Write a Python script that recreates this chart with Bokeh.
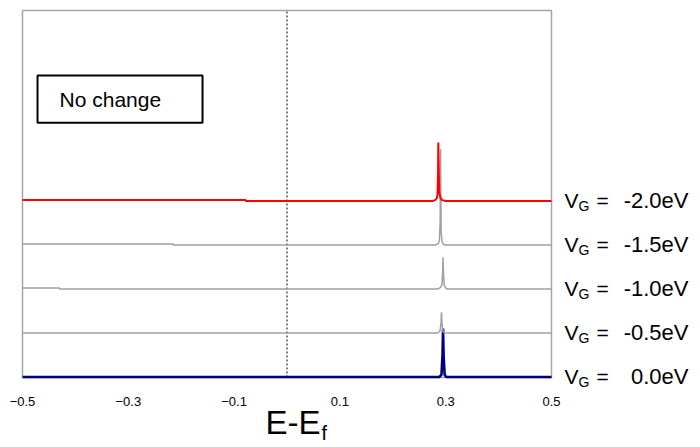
from bokeh.plotting import figure
from bokeh.models import Label, BoxAnnotation, Range1d
from bokeh.core.properties import value
from bokeh.embed import file_html
from bokeh.resources import INLINE

# ---------------- data ----------------
x_ticks = [-0.5, -0.3, -0.1, 0.1, 0.3, 0.5]
tick_labels = ["\u22120.5", "\u22120.3", "\u22120.1", "0.1", "0.3", "0.5"]

gate_values = ["-2.0eV", "-1.5eV", "-1.0eV", "-0.5eV", "0.0eV"]
offsets = [4, 3, 2, 1, 0]

# V_G = -2.0 eV (red)
e_m20 = [-0.5, -0.078, -0.078, 0.275, 0.280, 0.283, 0.2845, 0.2855, 0.286, 0.2868, 0.2878, 0.290, 0.293, 0.300, 0.5]
d_m20 = [0.02, 0.02, 0.0, 0.0, 0.02, 0.06, 0.15, 0.6, 1.33, 0.8, 0.2, 0.07, 0.02, 0.0, 0.0]
# V_G = -1.5 eV
e_m15 = [-0.5, -0.215, -0.215, 0.280, 0.286, 0.288, 0.2895, 0.2903, 0.2908, 0.2915, 0.293, 0.296, 0.299, 0.5]
d_m15 = [0.02, 0.02, 0.0, 0.0, 0.03, 0.10, 0.5, 2.18, 1.2, 0.3, 0.08, 0.01, 0.0, 0.0]
# V_G = -1.0 eV
e_m10 = [-0.5, -0.43, -0.43, 0.284, 0.290, 0.293, 0.2943, 0.295, 0.2957, 0.297, 0.300, 0.303, 0.5]
d_m10 = [0.02, 0.02, 0.0, 0.0, 0.03, 0.10, 0.4, 0.72, 0.4, 0.10, 0.02, 0.0, 0.0]
# V_G = -0.5 eV
e_m05 = [-0.5, 0.285, 0.289, 0.291, 0.292, 0.293, 0.295, 0.298, 0.5]
d_m05 = [0.0, 0.0, 0.04, 0.2, 0.47, 0.2, 0.03, 0.0, 0.0]
# V_G = 0.0 eV (navy)
e_00 = [-0.5, 0.288, 0.292, 0.294, 0.295, 0.296, 0.298, 0.301, 0.5]
d_00 = [0.0, 0.0, 0.05, 0.5, 1.1, 0.5, 0.05, 0.0, 0.0]

energies = [e_m20, e_m15, e_m10, e_m05, e_00]
dos = [d_m20, d_m15, d_m10, d_m05, d_00]
colors = ["#ff0000", "#a0a0a0", "#a0a0a0", "#a0a0a0", "#000080"]
widths = [2.0, 1.5, 1.5, 1.5, 2.6]

# ---------------- layout constants ----------------
E_MIN, E_MAX = -0.5, 0.5          # visible energy window (plot box)
Y_BOX_BOTTOM, Y_BOX_TOP = -0.011, 8.33
FONT = "Liberation Sans"

# frame spans the whole canvas so that all texts are inside it
p = figure(width=700, height=447, output_backend="svg", toolbar_location=None,
           x_range=Range1d(-0.541588, 0.781664), y_range=Range1d(-1.60227, 8.55682),
           x_axis_location=None, y_axis_location=None,
           min_border=0, min_border_left=0, min_border_right=0,
           min_border_top=0, min_border_bottom=0)
p.xgrid.visible = False
p.ygrid.visible = False
p.outline_line_color = None
p.background_fill_color = "white"
p.border_fill_color = "white"

# plot box
p.add_layout(BoxAnnotation(left=E_MIN, right=E_MAX, bottom=Y_BOX_BOTTOM, top=Y_BOX_TOP,
                           fill_alpha=0.0, line_color="#a6a6a6", line_alpha=1.0,
                           line_width=1.5, level="underlay"))

# Fermi level (dotted)
p.line([0, 0], [Y_BOX_BOTTOM, Y_BOX_TOP], line_color="black", line_dash="2 2", line_width=1)

# traces (blue first, red last)
for e, d, off, c, w in reversed(list(zip(energies, dos, offsets, colors, widths))):
    p.line(e, [off + v for v in d], line_color=c, line_width=w)

# x tick labels
p.text(x=x_ticks, y=[-0.55] * len(x_ticks), text=tick_labels,
       text_font=value(FONT), text_font_size="13px", text_align="center",
       text_baseline="middle", text_color="black")

# gate-voltage labels on the right
for val, off in zip(gate_values, offsets):
    common = dict(text_font=FONT, text_baseline="middle", text_color="black")
    p.add_layout(Label(x=E_MAX, y=off, x_offset=13, y_offset=1, text="V",
                       text_font_size="21px", text_align="left", **common))
    p.add_layout(Label(x=E_MAX, y=off, x_offset=27, y_offset=-5, text="G",
                       text_font_size="14px", text_align="left", **common))
    p.add_layout(Label(x=E_MAX, y=off, x_offset=45, y_offset=1, text="=",
                       text_font_size="21px", text_align="left", **common))
    p.add_layout(Label(x=E_MAX, y=off, x_offset=137, y_offset=1, text=val,
                       text_font_size="22px", text_align="right", **common))

# "No change" box
p.add_layout(BoxAnnotation(left=-0.4716, right=-0.1597, bottom=5.78, top=6.85,
                           fill_color="white", fill_alpha=1.0,
                           line_color="black", line_alpha=1.0, line_width=2))
p.add_layout(Label(x=-0.43, y=6.31, text="No change", text_font=FONT,
                   text_font_size="21px", text_baseline="middle", text_align="left",
                   text_color="black"))

# x axis title  E-E_f
p.add_layout(Label(x=-0.0406, y=-1.03, text="E-E", text_font=FONT,
                   text_font_size="33px", text_baseline="middle", text_align="left",
                   text_color="black"))
p.add_layout(Label(x=-0.0406, y=-1.03, x_offset=56, y_offset=-11, text="f",
                   text_font=FONT, text_font_size="20px", text_baseline="middle",
                   text_align="left", text_color="black"))

open("out.html", "w").write(file_html(p, INLINE))
